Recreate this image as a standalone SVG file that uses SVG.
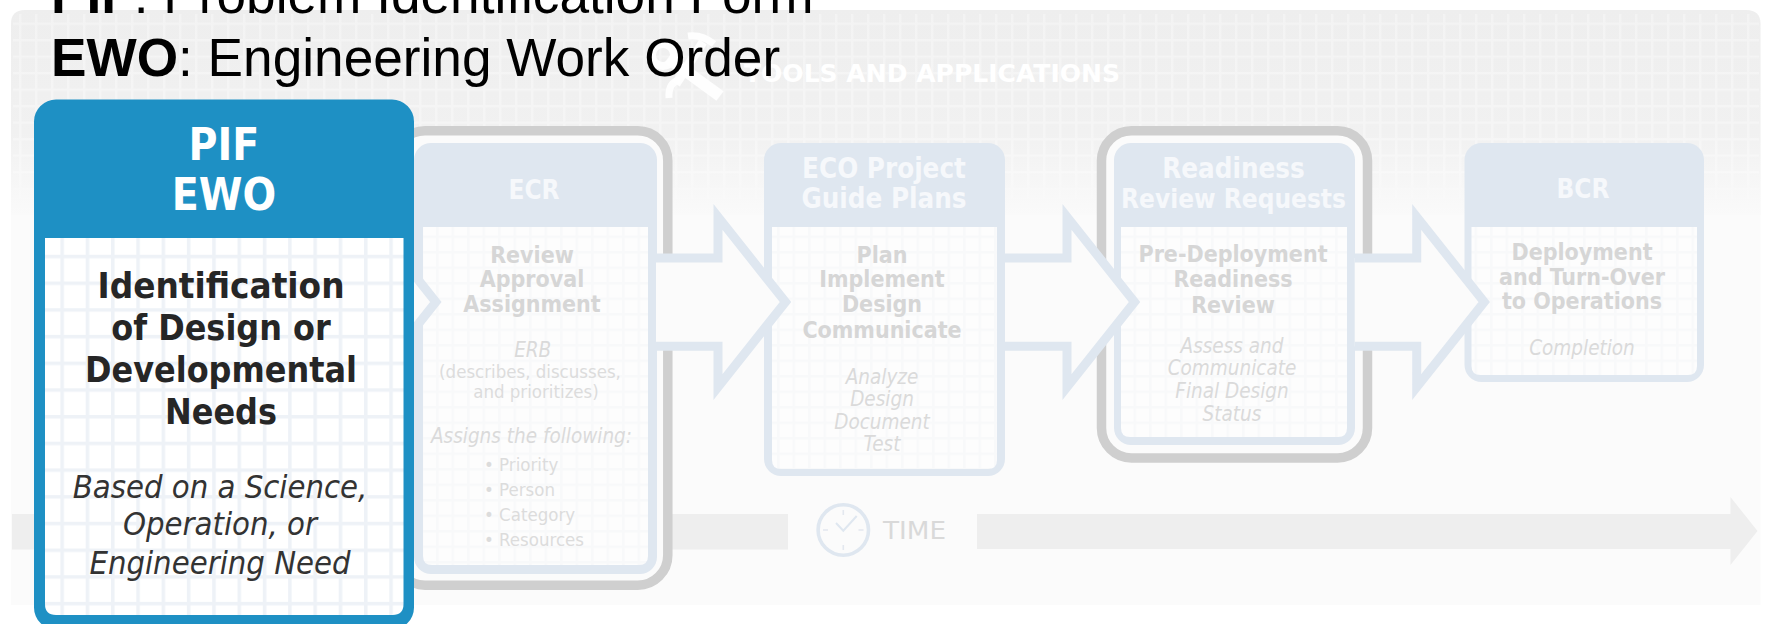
<svg xmlns="http://www.w3.org/2000/svg" width="1768" height="624" viewBox="0 0 1768 624">
<style>
text{font-family:"DejaVu Sans","Liberation Sans",sans-serif;font-stretch:condensed;text-anchor:middle}
.top{font-family:"Liberation Sans",Arial,sans-serif;font-stretch:normal;font-size:53.200px;fill:#000;text-anchor:start}
.hd{font-weight:700;font-size:26px;fill:#f6f8fb}
.hl{font-weight:700;font-size:27.500px;fill:#f6f8fb}
.bd{font-weight:700;font-size:23px;fill:#d6d6d6}
.it{font-style:italic;font-size:20.500px;fill:#dadada}
.sm{font-size:18.500px;fill:#dcdcdc}
.li{font-size:18.500px;fill:#dcdcdc;text-anchor:start}
.bx{fill:#dfe7f0}
.in{fill:url(#ghost)}
.ring{fill:#fbfbfb;stroke:#cfcfcf;stroke-width:9.500}
.arrow{fill:#fbfbfb;stroke:#dfe7f0;stroke-width:9;stroke-miterlimit:8}
.ph{font-weight:700;font-size:44px;fill:#fff}
.pt{font-weight:700;font-size:35.500px;fill:#262626}
.pi{font-style:italic;font-size:32.500px;fill:#333}
.tick{stroke:#e3e8ef;stroke-width:1.600;fill:none}
.tool{fill:none;stroke:#fff;stroke-opacity:.9}
</style>
<defs>
<linearGradient id="pg" x1="0" y1="0" x2="0" y2="1"><stop offset="0" stop-color="#eeeeee"/><stop offset="0.6" stop-color="#f1f1f1"/><stop offset="1" stop-color="#fafafa"/></linearGradient>
<linearGradient id="fade" x1="0" y1="0" x2="0" y2="1"><stop offset="0" stop-color="#fff"/><stop offset="0.8" stop-color="#fff"/><stop offset="1" stop-color="#000"/></linearGradient>
<mask id="fm" maskUnits="userSpaceOnUse" x="0" y="0" width="1768" height="240"><rect x="0" y="0" width="1768" height="215" fill="url(#fade)"/></mask>
<pattern id="pgrid" x="3" y="6" width="16" height="16.500" patternUnits="userSpaceOnUse"><path d="M0 0H16M0 0V16.500" stroke="#fff" stroke-opacity=".32" stroke-width="5" fill="none"/></pattern>
<pattern id="ghost" x="2" y="3" width="15.500" height="15.500" patternUnits="userSpaceOnUse"><rect width="15.500" height="15.500" fill="#fdfdfd"/><path d="M0 0H15.500M0 0V15.500" stroke="#f8f9fa" stroke-width="5" fill="none"/></pattern>
<pattern id="blue" x="9.800" y="14.500" width="25.300" height="26.700" patternUnits="userSpaceOnUse"><rect width="25.300" height="26.700" fill="#fff"/><path d="M0 0H25.300M0 0V26.700" stroke="#eef2f7" stroke-width="7" fill="none"/></pattern>
<path id="arr" class="arrow" d="M656 258H718V217L785.500 302L718 387V346.200H656"/>
</defs>

<rect width="1768" height="624" fill="#fff"/>
<g id="panel">
<path d="M11 24Q11 10 25 10H1746Q1760.500 10 1760.500 24V605H11Z" fill="#fbfbfb"/>
<path d="M11 24Q11 10 25 10H1746Q1760.500 10 1760.500 24V215H11Z" fill="url(#pg)"/>
<rect x="13" y="14" width="1746" height="200" fill="url(#pgrid)" mask="url(#fm)"/>
</g>
<g id="tools-heading">
<g id="tools-icon">
<path class="tool" stroke-width="12" d="M668 58L720 96"/>
<circle cx="663" cy="55" r="11" fill="none" stroke="#fff" stroke-opacity=".9" stroke-width="8"/>
<path class="tool" stroke-width="9" d="M703 42L676 84"/>
<path class="tool" stroke-width="7" d="M688 36Q702 34 714 44"/>
<path class="tool" stroke-width="7" d="M680 80Q668 82 669 98"/>
</g>
<text x="932" y="82" style="font-weight:700;font-size:25px;fill:#fff;font-stretch:normal" textLength="376" lengthAdjust="spacingAndGlyphs">TOOLS AND APPLICATIONS</text>
</g>
<g id="time-axis">
<rect x="12" y="514" width="776" height="35.500" fill="#eee"/>
<path d="M977 514H1730.500V497L1757.500 531L1730.500 565V549H977Z" fill="#eee"/>
<g id="clock">
<circle cx="843.300" cy="530" r="25.200" fill="none" stroke="#dfe7f0" stroke-width="3.600"/>
<path class="tick" d="M843.300 510v5M843.300 545v5M823 530h5M858.500 530h5"/>
<path d="M836 523l7.300 7.700L856.700 516" fill="none" stroke="#dfe7f0" stroke-width="2"/>
</g>
<text x="914.500" y="539.300" style="font-size:25.500px;fill:#d9d9d9;font-stretch:normal" textLength="63" lengthAdjust="spacingAndGlyphs">TIME</text>
</g>

<g id="node-ecr">
<rect class="ring" x="395" y="130.700" width="272.800" height="454.500" rx="30"/>
<rect class="bx" x="414" y="143" width="243" height="431" rx="17"/>
<path class="in" d="M423 227H648V556Q648 565 639 565H432Q423 565 423 556Z"/>
<text class="hd" x="534" y="199">ECR</text>
<text class="bd" x="532" y="262.700">Review</text>
<text class="bd" x="532" y="287.300">Approval</text>
<text class="bd" x="532" y="311.500">Assignment</text>
<text class="it" x="532.700" y="357">ERB</text>
<text class="sm" x="530" y="378">(describes, discusses,</text>
<text class="sm" x="536" y="398">and prioritizes)</text>
<text class="it" x="531.500" y="442.700">Assigns the following:</text>
<text class="li" x="484" y="471">• Priority</text>
<text class="li" x="484" y="496">• Person</text>
<text class="li" x="484" y="521">• Category</text>
<text class="li" x="484" y="546">• Resources</text>
</g>
<g id="node-eco">
<rect class="bx" x="764" y="143" width="241" height="333" rx="17"/>
<path class="in" d="M772 227H997V460Q997 469 988 469H781Q772 469 772 460Z"/>
<text class="hl" x="884" y="178">ECO Project</text>
<text class="hl" x="884" y="208">Guide Plans</text>
<text class="bd" x="882" y="262.700">Plan</text>
<text class="bd" x="882" y="287.300">Implement</text>
<text class="bd" x="882" y="312">Design</text>
<text class="bd" x="882" y="338">Communicate</text>
<text class="it" x="882" y="383.700">Analyze</text>
<text class="it" x="882" y="406">Design</text>
<text class="it" x="882" y="428.500">Document</text>
<text class="it" x="882" y="451">Test</text>
</g>
<g id="node-readiness">
<rect class="ring" x="1101.500" y="130.700" width="266" height="327.300" rx="30"/>
<rect class="bx" x="1114" y="143" width="241" height="302" rx="17"/>
<path class="in" d="M1121 227H1347V428Q1347 437 1338 437H1130Q1121 437 1121 428Z"/>
<text class="hl" x="1233.500" y="178">Readiness</text>
<text class="hd" x="1233.500" y="208">Review Requests</text>
<text class="bd" x="1233" y="261.700">Pre-Deployment</text>
<text class="bd" x="1233" y="287">Readiness</text>
<text class="bd" x="1233" y="313">Review</text>
<text class="it" x="1232" y="352.700">Assess and</text>
<text class="it" x="1232" y="375.300">Communicate</text>
<text class="it" x="1232" y="397.500">Final Design</text>
<text class="it" x="1232" y="421">Status</text>
</g>
<g id="node-bcr">
<rect class="bx" x="1464.500" y="143" width="239.500" height="239" rx="17"/>
<path class="in" d="M1471.500 227H1697V366Q1697 375 1688 375H1480.500Q1471.500 375 1471.500 366Z"/>
<text class="hd" x="1583" y="197.700">BCR</text>
<text class="bd" x="1582" y="260">Deployment</text>
<text class="bd" x="1582" y="285">and Turn-Over</text>
<text class="bd" x="1582" y="308.500">to Operations</text>
<text class="it" x="1582" y="355">Completion</text>
</g>

<g id="connectors">
<use href="#arr" x="-349.700"/>
<use href="#arr"/>
<use href="#arr" x="349"/>
<use href="#arr" x="698.700"/>
</g>

<g id="node-pif">
<rect x="34" y="99.500" width="380" height="530" rx="22" fill="#1e90c4"/>
<path d="M45 238H403.500V604Q403.500 615 392.500 615H56Q45 615 45 604Z" fill="url(#blue)"/>
<text class="ph" x="224" y="160">PIF</text>
<text class="ph" x="224" y="210">EWO</text>
<text class="pt" x="221" y="298" textLength="247" lengthAdjust="spacingAndGlyphs">Identification</text>
<text class="pt" x="221" y="340">of Design or</text>
<text class="pt" x="221" y="382">Developmental</text>
<text class="pt" x="221" y="423.700">Needs</text>
<text class="pi" x="220" y="498">Based on a Science,</text>
<text class="pi" x="220" y="535">Operation, or</text>
<text class="pi" x="220" y="573.700">Engineering Need</text>
</g>

<g id="legend">
<text class="top" x="51" y="13"><tspan font-weight="700">PIF</tspan>: Problem Identification Form</text>
<text class="top" x="51" y="76"><tspan font-weight="700">EWO</tspan>: Engineering Work Order</text>
</g>
</svg>
